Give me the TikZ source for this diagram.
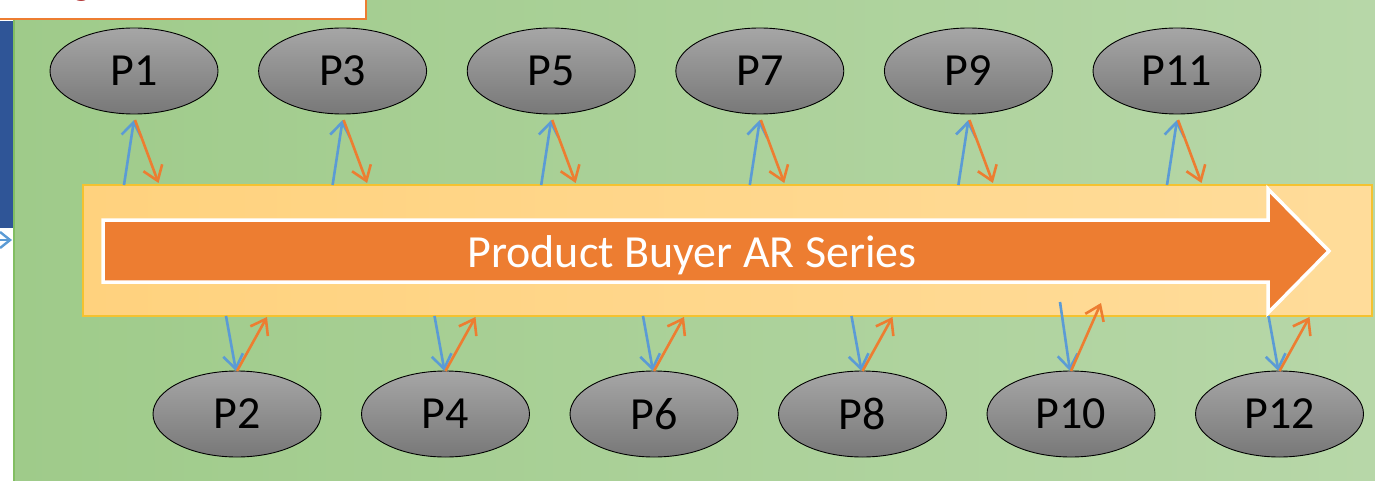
\documentclass[tikz,border=0pt]{standalone}
\usepackage{fontspec}
\setmainfont{Carlito}
\usetikzlibrary{shapes.geometric,arrows.meta}
\definecolor{bgL}{RGB}{159,203,138}
\definecolor{bgR}{RGB}{183,215,168}
\definecolor{bgEdge}{RGB}{130,190,98}
\definecolor{barL}{RGB}{255,210,126}
\definecolor{barR}{RGB}{255,220,154}
\definecolor{barEdge}{RGB}{244,194,48}
\definecolor{flow}{RGB}{237,125,49}
\definecolor{link}{RGB}{91,155,213}
\definecolor{navy}{RGB}{47,85,151}
\definecolor{headred}{RGB}{160,0,0}
\definecolor{pTop}{RGB}{166,166,166}
\definecolor{pBot}{RGB}{120,120,120}
\tikzset{
  party/.style={ellipse, draw=black, line width=0.9pt, top color=pTop, bottom color=pBot,
    minimum width=168pt, minimum height=86pt, inner sep=0pt,
    font=\fontsize{46}{52}\selectfont, text=black},
  tipstyle/.style={-{Straight Barb[length=14pt,width=20pt]}, line width=2.6pt},
  uplink/.style={tipstyle, draw=link},
  downlink/.style={tipstyle, draw=flow},
}
\begin{document}
\begin{tikzpicture}[x=1pt,y=-1pt]
\useasboundingbox (0,0) rectangle (1375,481);
% left margin strip and side bar
\fill[white] (0,0) rectangle (14,481);
\fill[navy] (0,21) rectangle (13,228);
% green background panel
\shade[left color=bgL, right color=bgR] (13,0) rectangle (1375,481);
\draw[bgEdge, line width=1.5pt] (13.75,20) -- (13.75,481);
% heading box at the top left
\filldraw[fill=white, draw=flow, line width=2pt] (-10,-10) rectangle (366,19);
\begin{scope}
  \clip (0,0) rectangle (366,18);
  \node[anchor=base, text=headred, font=\bfseries\fontsize{40}{44}\selectfont] (head) at (82,-5) {g};
\end{scope}
% incoming link on the left
\coordinate (lin) at (-20,240);
\coordinate (lout) at (12,240);
\draw[link, line width=2.4pt, -{Straight Barb[length=10pt,width=16pt]}] (lin) -- (lout);
% series band
\filldraw[left color=barL, right color=barR, draw=barEdge, line width=1.5pt] (83,185) rectangle (1372,316);
\node[inner sep=0pt, minimum width=1289pt, minimum height=131pt] (band) at (727.5,250.5) {};
\filldraw[fill=flow, draw=white, line width=3.5pt, line join=miter]
  (103,220) -- (1268,220) -- (1268,189) -- (1329,251) -- (1268,313) -- (1268,282) -- (103,282) -- cycle;
\node[text=white, font=\fontsize{46}{52}\selectfont] (series) at (692,255) {Product Buyer AR Series};
% upper parties
\foreach \i/\n in {0/1,1/3,2/5,3/7,4/9,5/11} {
  \pgfmathsetmacro{\cx}{134+208.6*\i}
  \node[party] (P\n) at (\cx,71) {\raisebox{-2pt}{P\n}};
  \coordinate (P\n-tip) at (\cx,120);
  \coordinate (P\n-in) at (\cx-10,185);
  \coordinate (P\n-out) at (\cx+24.5,183);
  \draw[uplink] (P\n-in) -- (P\n-tip);
  \draw[downlink] ([xshift=1pt]P\n-tip) -- (P\n-out);
}
% lower parties
\foreach \i/\n/\ya/\yb in {0/2/316/317,1/4/316/317,2/6/316/317,3/8/316/317,4/10/302/303,5/12/316/317} {
  \pgfmathsetmacro{\cx}{237+208.5*\i}
  \node[party] (P\n) at (\cx,414) {\raisebox{-2pt}{P\n}};
  \coordinate (P\n-tip) at (\cx,371);
  \coordinate (P\n-in) at (\cx-11,\ya);
  \coordinate (P\n-out) at (\cx+30,\yb);
  \draw[uplink] (P\n-in) -- ([xshift=-1pt]P\n-tip);
  \draw[downlink] (P\n-tip) -- (P\n-out);
}
\end{tikzpicture}
\end{document}
